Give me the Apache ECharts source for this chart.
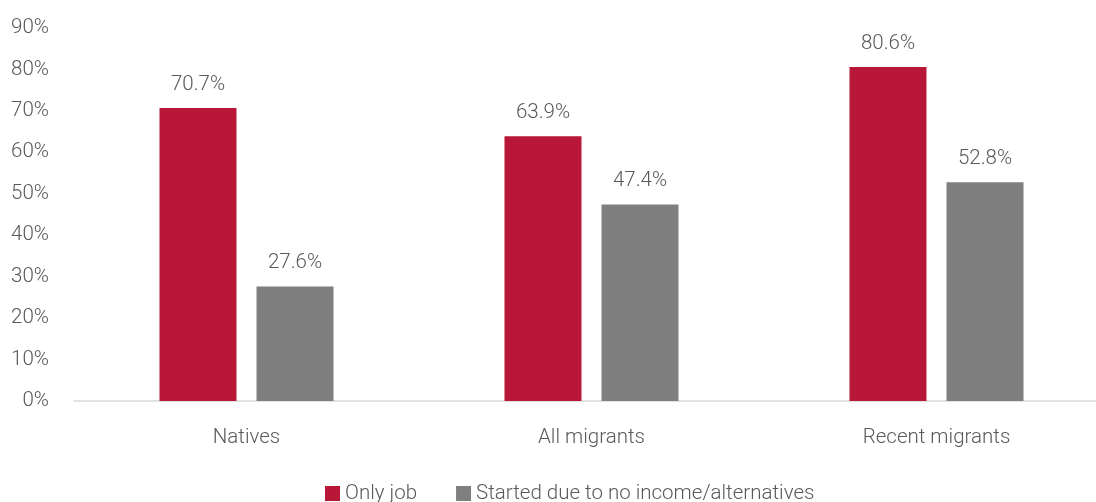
<!DOCTYPE html>
<html>
<head>
<meta charset="utf-8">
<script src="https://cdn.jsdelivr.net/npm/echarts@6/dist/echarts.min.js"></script>
<style>html,body{margin:0;padding:0;background:#fff;overflow:hidden;width:1096px;height:502px;}#c{width:1120px;height:502px;}</style>
</head>
<body>
<div id="c"></div>
<script>
const categories = ['Natives', 'All migrants', 'Recent migrants'];
const onlyJob = [70.7, 63.9, 80.6];
const noIncome = [27.6, 47.4, 52.8];
const seriesNames = ['Only job', 'Started due to no income/alternatives'];

const FONT = 'Roboto';
const TXT = '#595959';
const FS = 20.5;
const chart = echarts.init(document.getElementById('c'));
const lbl = {
  show: true, position: 'top', distance: 13,
  fontFamily: FONT, fontSize: FS, fontWeight: 300, color: TXT,
  formatter: p => p.value.toFixed(1) + '%'
};
chart.setOption({
  animation: false,
  textStyle: { fontFamily: FONT },
  grid: { left: 74, top: 28, width: 1035, height: 373 },
  legend: {
    left: 325, top: 483, padding: 0, itemWidth: 15, itemHeight: 15, itemGap: 39,
    icon: 'rect',
    textStyle: { fontFamily: FONT, fontSize: FS, fontWeight: 300, color: TXT },
    data: seriesNames
  },
  xAxis: {
    type: 'category', data: categories,
    axisLine: { lineStyle: { color: '#d9d9d9', width: 1.5 } },
    axisTick: { show: false },
    axisLabel: { fontFamily: FONT, fontSize: FS, fontWeight: 300, color: TXT, margin: 26 }
  },
  yAxis: {
    type: 'value', min: 0, max: 90, interval: 10,
    splitLine: { show: false },
    axisLine: { show: false },
    axisTick: { show: false },
    axisLabel: { fontFamily: FONT, fontSize: FS, fontWeight: 300, color: TXT, margin: 25, formatter: '{value}%' }
  },
  series: [
    { name: seriesNames[0], type: 'bar', data: onlyJob, barWidth: 77, barGap: '26%',
      itemStyle: { color: '#b81737' }, label: lbl },
    { name: seriesNames[1], type: 'bar', data: noIncome, barWidth: 77,
      itemStyle: { color: '#7f7f7f' }, label: lbl }
  ]
});
</script>
</body>
</html>
